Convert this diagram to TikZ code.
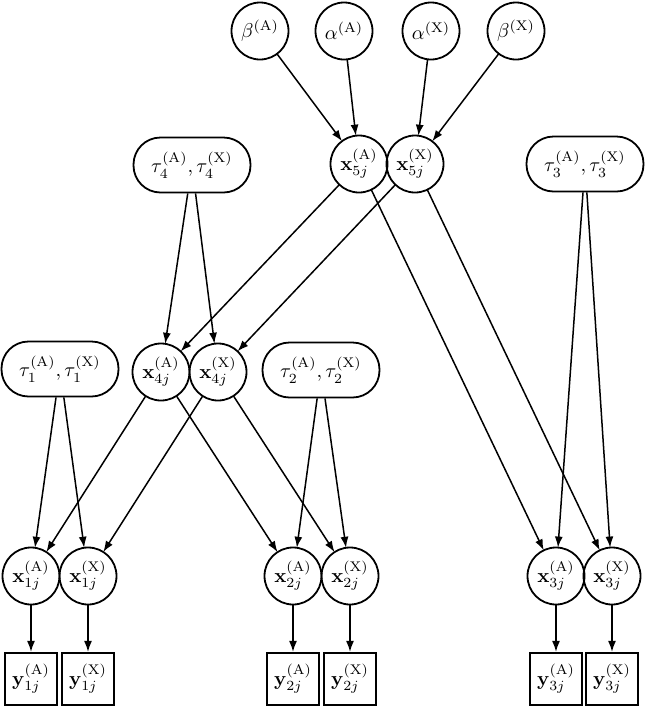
\documentclass[tikz,border=0pt]{standalone}
\usetikzlibrary{arrows.meta}
\begin{document}
\begin{tikzpicture}[x=0.5pt,y=-0.5pt,
 lat/.style={circle,draw,line width=0.9pt,minimum size=28.5pt,inner sep=0pt,outer sep=0pt},
 parbox/.style={rectangle,rounded corners=13.5pt,draw,line width=0.9pt,minimum width=58.5pt,minimum height=27.5pt,inner sep=0pt},
 obs/.style={rectangle,draw,line width=1.1pt,minimum size=26pt,inner sep=0pt},
 arr/.style={-{Latex[length=5.5pt,width=4pt]},line width=0.75pt}]
\useasboundingbox (0,0) rectangle (644,708);
% top
\node[lat] (bA) at (260,31) {$\beta^{(\mathrm{A})}$};
\node[lat] (aA) at (344,31) {$\alpha^{(\mathrm{A})}$};
\node[lat] (aX) at (431,31) {$\alpha^{(\mathrm{X})}$};
\node[lat] (bX) at (516,31) {$\beta^{(\mathrm{X})}$};
% row 2
\node[lat] (x5A) at (359,164) {$\mathbf{x}_{5j}^{(\mathrm{A})}$};
\node[lat] (x5X) at (415,164) {$\mathbf{x}_{5j}^{(\mathrm{X})}$};
\node[parbox] (t4) at (192,165) {$\tau_4^{(\mathrm{A})},\tau_4^{(\mathrm{X})}$};
\node[parbox] (t3) at (585,164) {$\tau_3^{(\mathrm{A})},\tau_3^{(\mathrm{X})}$};
% row 3
\node[lat] (x4A) at (161,372) {$\mathbf{x}_{4j}^{(\mathrm{A})}$};
\node[lat] (x4X) at (218,372) {$\mathbf{x}_{4j}^{(\mathrm{X})}$};
\node[parbox] (t1) at (60,369) {$\tau_1^{(\mathrm{A})},\tau_1^{(\mathrm{X})}$};
\node[parbox] (t2) at (321,370) {$\tau_2^{(\mathrm{A})},\tau_2^{(\mathrm{X})}$};
% row 4
\node[lat] (x1A) at (31,576) {$\mathbf{x}_{1j}^{(\mathrm{A})}$};
\node[lat] (x1X) at (88,576) {$\mathbf{x}_{1j}^{(\mathrm{X})}$};
\node[lat] (x2A) at (293,576) {$\mathbf{x}_{2j}^{(\mathrm{A})}$};
\node[lat] (x2X) at (350,576) {$\mathbf{x}_{2j}^{(\mathrm{X})}$};
\node[lat] (x3A) at (556,576) {$\mathbf{x}_{3j}^{(\mathrm{A})}$};
\node[lat] (x3X) at (612,576) {$\mathbf{x}_{3j}^{(\mathrm{X})}$};
% row 5
\node[obs] (y1A) at (31,679) {$\mathbf{y}_{1j}^{(\mathrm{A})}$};
\node[obs] (y1X) at (88,679) {$\mathbf{y}_{1j}^{(\mathrm{X})}$};
\node[obs] (y2A) at (293,679) {$\mathbf{y}_{2j}^{(\mathrm{A})}$};
\node[obs] (y2X) at (350,679) {$\mathbf{y}_{2j}^{(\mathrm{X})}$};
\node[obs] (y3A) at (556,679) {$\mathbf{y}_{3j}^{(\mathrm{A})}$};
\node[obs] (y3X) at (612,679) {$\mathbf{y}_{3j}^{(\mathrm{X})}$};
% edges
\draw[arr] (bA) -- (x5A);
\draw[arr] (aA) -- (x5A);
\draw[arr] (aX) -- (x5X);
\draw[arr] (bX) -- (x5X);
\draw[arr] (x5A) -- (x4A);
\draw[arr] (x5A) -- (x3A);
\draw[arr] (x5X) -- (x4X);
\draw[arr] (x5X) -- (x3X);
\draw[arr] (t4) -- (x4A);
\draw[arr] (t4) -- (x4X);
\draw[arr] (t3) -- (x3A);
\draw[arr] (t3) -- (x3X);
\draw[arr] (x4A) -- (x1A);
\draw[arr] (x4A) -- (x2A);
\draw[arr] (x4X) -- (x1X);
\draw[arr] (x4X) -- (x2X);
\draw[arr] (t1) -- (x1A);
\draw[arr] (t1) -- (x1X);
\draw[arr] (t2) -- (x2A);
\draw[arr] (t2) -- (x2X);
\draw[arr] (x1A) -- (y1A);
\draw[arr] (x1X) -- (y1X);
\draw[arr] (x2A) -- (y2A);
\draw[arr] (x2X) -- (y2X);
\draw[arr] (x3A) -- (y3A);
\draw[arr] (x3X) -- (y3X);
\end{tikzpicture}
\end{document}
